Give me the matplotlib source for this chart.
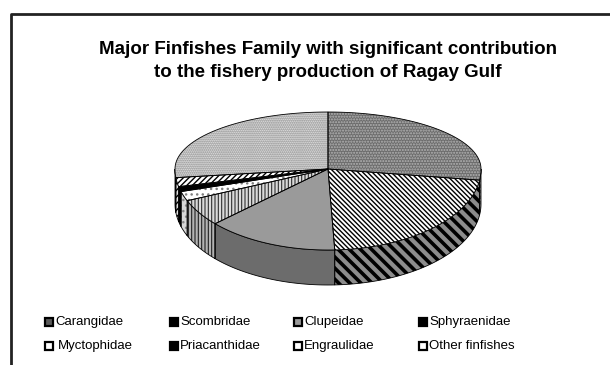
import numpy as np
import matplotlib.pyplot as plt
from matplotlib.patches import Polygon, Rectangle

# data (percent of finfish production)
families = ["Carangidae", "Scombridae", "Clupeidae", "Sphyraenidae",
            "Myctophidae", "Priacanthidae", "Engraulidae", "Other finfishes"]
shares = [27.2, 22.1, 13.9, 5.4, 1.9, 1.0, 1.8, 26.7]

# fill styles for the top of each slice and for its side wall
top_face = ["#6c6c6c", "white", "#9a9a9a", "#dadada", "white", "black", "white", "#f2f2f2"]
top_hatch = ["......", "\\" * 7, None, "|" * 5, "...", None, "/" * 6, "........"]
top_hcol = ["#b4b4b4", "black", "#9a9a9a", "#303030", "#808080", "black", "black", "#7a7a7a"]
top_hlw = [1.0, 1.0, 1.0, 0.8, 1.0, 1.0, 1.0, 1.0]
side_face = ["#505050", "#8c8c8c", "#6c6c6c", "#b4b4b4", "#d8d8d8", "black", "#e0e0e0", "#d0d0d0"]
side_hatch = ["......", "\\" * 3, None, "|" * 5, "...", None, "/" * 5, "........"]
side_hcol = ["#a0a0a0", "black", "#6c6c6c", "#202020", "#8a8a8a", "black", "black", "#808080"]
side_hlw = [1.0, 2.6, 1.0, 0.8, 1.0, 1.0, 1.0, 1.0]
key_face = ["#5a5a5a", "black", "#9a9a9a", "black", "white", "black", "white", "white"]

# pie geometry in pixel units
cx, cy = 328, 169
rx, ry_back, ry_front = 153, 57, 81
depth = 35

fig = plt.figure(figsize=(6.1, 3.65), dpi=100)
ax = fig.add_axes([0, 0, 1, 1])
ax.set_xlim(0, 610)
ax.set_ylim(365, 0)
ax.axis("off")


def rim(t):
    t = np.asarray(t)
    ry = np.where(np.cos(t) > 0, ry_back, ry_front)
    return cx + rx * np.sin(t), cy - ry * np.cos(t)


def draw_poly(xs, ys, face, hatch, hcol, hlw, z):
    pts = np.column_stack([xs, ys])
    with plt.rc_context({"hatch.linewidth": hlw}):
        ax.add_patch(Polygon(pts, closed=True, facecolor=face, hatch=hatch,
                             edgecolor=hcol, linewidth=0, zorder=z))
    ax.add_patch(Polygon(pts, closed=True, fill=False, edgecolor="black",
                         linewidth=0.6, zorder=z + 0.1))


bounds = np.concatenate([[0], np.cumsum(shares)]) / sum(shares) * 2 * np.pi

# side walls (only the front half is visible)
for i in range(len(shares)):
    t1 = max(bounds[i], np.pi / 2)
    t2 = min(bounds[i + 1], 3 * np.pi / 2)
    if t2 <= t1:
        continue
    t = np.linspace(t1, t2, 80)
    x, y = rim(t)
    xs = np.concatenate([x, x[::-1]])
    ys = np.concatenate([y, (y + depth)[::-1]])
    draw_poly(xs, ys, side_face[i], side_hatch[i], side_hcol[i], side_hlw[i], 2)

# top faces
for i in range(len(shares)):
    t = np.linspace(bounds[i], bounds[i + 1], 120)
    x, y = rim(t)
    xs = np.concatenate([[cx], x])
    ys = np.concatenate([[cy], y])
    draw_poly(xs, ys, top_face[i], top_hatch[i], top_hcol[i], top_hlw[i], 3)

# frame of the chart area (cropped on the right and bottom)
ax.plot([11, 11, 612], [367, 14, 14], color="#222222", lw=2, zorder=5)

ax.text(328, 61, "Major Finfishes Family with significant contribution\n"
        "to the fishery production of Ragay Gulf",
        ha="center", va="center", fontsize=13.5, fontweight="bold",
        family="Liberation Sans", linespacing=1.4)

# legend, row by row
col_x = [45, 170, 294, 419]
row_y = [322, 346]
for i, name in enumerate(families):
    r, c = divmod(i, 4)
    x0, y0 = col_x[c], row_y[r]
    ax.add_patch(Rectangle((x0, y0 - 4), 8, 8, facecolor=key_face[i],
                           edgecolor="black", linewidth=1.6, zorder=4))
    tx = x0 + 10 + (3 if name == "Myctophidae" else 0)
    ax.text(tx, y0, name, ha="left", va="center", fontsize=9.5,
            family="Liberation Sans")

fig.savefig("out.png", dpi=100)
